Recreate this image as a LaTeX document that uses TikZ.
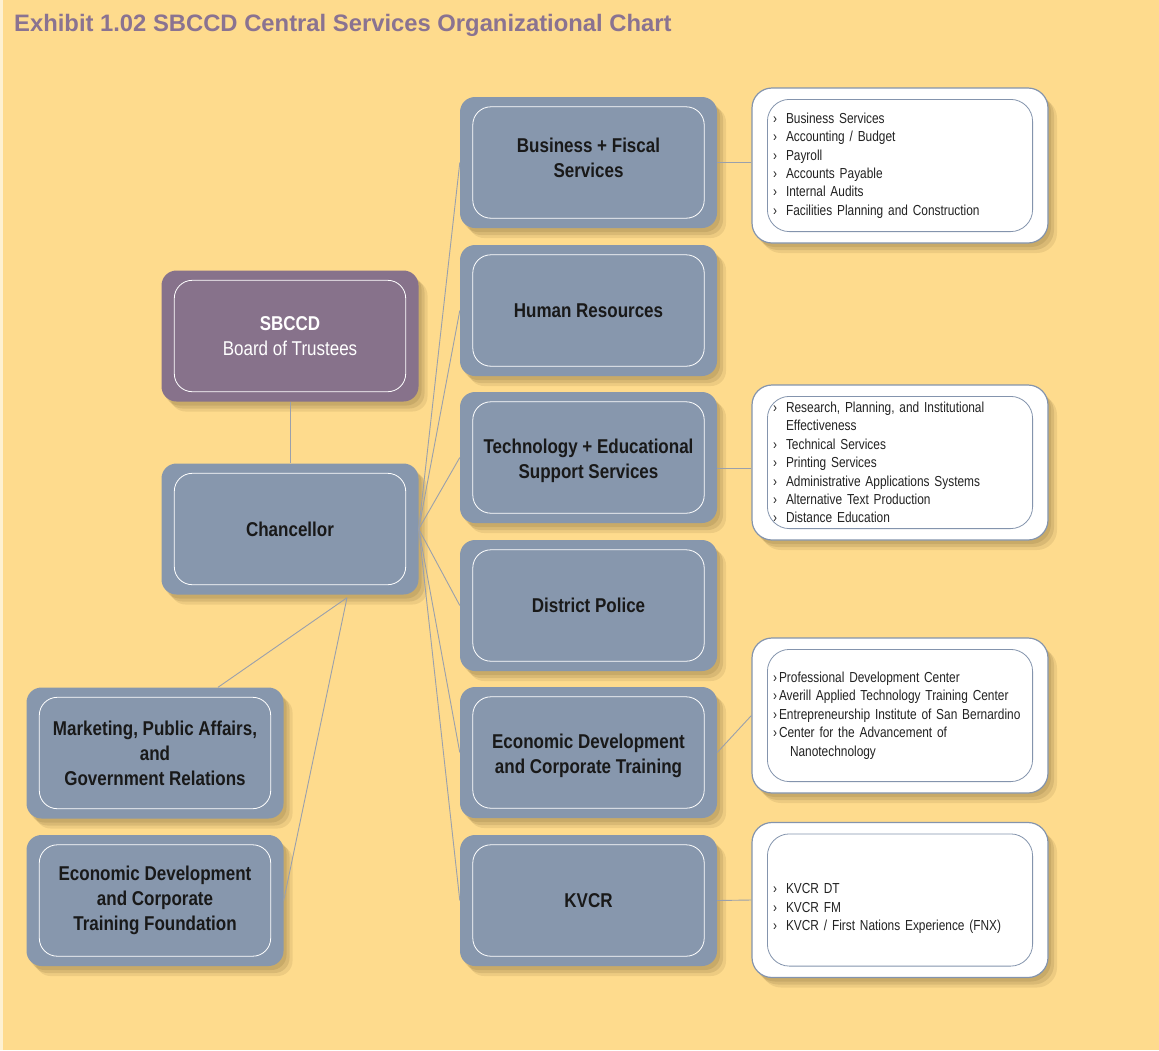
\documentclass[tikz,border=0pt]{standalone}
\usepackage{fontspec}
\setmainfont{Liberation Sans}
\newfontfamily\cond[FakeStretch=0.82]{Liberation Sans}
\newfontfamily\condb[FakeStretch=0.85]{Liberation Sans}
\usetikzlibrary{calc}

\definecolor{bgyellow}{HTML}{FEDB8D}
\definecolor{titlec}{HTML}{8A7391}
\definecolor{boardc}{HTML}{87728B}
\definecolor{bluebox}{HTML}{8797AD}
\definecolor{listborder}{HTML}{8494AD}
\definecolor{connc}{HTML}{9AA0AC}
\definecolor{shadowc}{HTML}{5A4620}
\definecolor{listtext}{HTML}{222222}

% bullet marks for the lists
\newcommand\itm{\makebox[13pt][l]{›}}
\newcommand\itmt{\makebox[6pt][l]{›}}

\begin{document}
\begin{tikzpicture}[x=1pt,y=-1pt,
    shadowed/.style={
        preaction={fill=shadowc,opacity=0.13,transform canvas={shift={(3pt,-4pt)}}},
        preaction={fill=shadowc,opacity=0.13,transform canvas={shift={(6pt,-7pt)}}},
        preaction={fill=shadowc,opacity=0.10,transform canvas={shift={(9pt,-10pt)}}}},
    box/.style={rectangle,rounded corners=15pt,minimum width=257pt,minimum height=131pt,
        fill=bluebox,align=center,text=black!90,
        font=\condb\bfseries\fontsize{20}{25}\selectfont,shadowed},
    listbox/.style={rectangle,rounded corners=20pt,minimum width=296pt,minimum height=155pt,
        fill=white,draw=listborder,line width=1.2pt,text width=254pt,align=left,text=listtext,
        font=\cond\fontsize{14.5}{18.4}\selectfont,shadowed},
    inner/.style={draw=white,line width=0.8pt,rounded corners=18pt},
    listinner/.style={draw=listborder,line width=0.8pt,rounded corners=22pt},
    conn/.style={draw=connc,line width=0.9pt}]

\fill[white!60!bgyellow] (0,0) rectangle (1159,1050);
\fill[bgyellow] (3,0) rectangle (1159,1050);
\useasboundingbox (0,0) rectangle (1159,1050);

\node[anchor=base west,inner sep=0pt,text=titlec,font=\bfseries\fontsize{23.8}{28}\selectfont] (title) at (14,31)
    {Exhibit 1.02 SBCCD Central Services Organizational Chart};

% left column
\node[box,fill=boardc,text=white] (board) at (290,336) {SBCCD\\\mdseries Board of Trustees};
\node[box] (chan) at (290,529) {Chancellor};
\node[box] (mkt) at (155,753) {Marketing, Public Affairs,\\and\\Government Relations};
\node[box] (fdn) at (155,900.5) {Economic Development\\and Corporate\\Training Foundation};

% right column
\node[box] (biz) at (588.5,162.5) {Business + Fiscal\\Services\rule[-10pt]{0pt}{1pt}};
\node[box] (hr) at (588.5,310.5) {Human Resources};
\node[box] (tech) at (588.5,457.5) {\rule{0pt}{21pt}Technology + Educational\\Support Services};
\node[box] (police) at (588.5,605.5) {District Police};
\node[box] (eco) at (588.5,752.5) {\rule{0pt}{21pt}Economic Development\\and Corporate Training};
\node[box] (kvcr) at (588.5,900.5) {KVCR};

\foreach \n in {board,chan,mkt,fdn,biz,hr,tech,police,eco,kvcr}
    \draw[inner] ($(\n.north west)+(13,10)$) rectangle ($(\n.south east)+(-13,-10)$);

% lists
\node[listbox] (bizlist) at (900,165.5) {\itm Business Services\\\itm Accounting / Budget\\\itm Payroll\\
    \itm Accounts Payable\\\itm Internal Audits\\\itm Facilities Planning and Construction};
\node[listbox] (techlist) at (900,462.5) {\itm Research, Planning, and Institutional\\\hspace*{13pt}Effectiveness\\
    \itm Technical Services\\\itm Printing Services\\\itm Administrative Applications Systems\\
    \itm Alternative Text Production\\\itm Distance Education};
\node[listbox] (ecolist) at (900,715.5) {\itmt Professional Development Center\\\itmt Averill Applied Technology Training Center\\
    \itmt Entrepreneurship Institute of San Bernardino\\\itmt Center for the Advancement of\\\hspace*{17pt}Nanotechnology};
\node[listbox] (kvcrlist) at (900,900) {\rule{0pt}{27pt}\itm KVCR DT\\\itm KVCR FM\\\itm KVCR / First Nations Experience (FNX)};

\foreach \n in {bizlist,techlist,ecolist,kvcrlist}
    \draw[listinner] ($(\n.north west)+(16,12)$) rectangle ($(\n.south east)+(-16,-12)$);

% connectors
\draw[conn] (board.south) -- (chan.north);
\foreach \n in {biz,hr,tech,police,eco,kvcr}
    \draw[conn] (chan.east) -- (\n.west);
\coordinate (lhub) at ($(chan.south)+(57,3)$);
\draw[conn] (lhub) -- ($(mkt.north)+(63,0)$);
\draw[conn] (lhub) -- (fdn.east);
\draw[conn] (biz.east) -- (biz.east -| bizlist.west);
\coordinate (techjoin) at ($(techlist.west)+(0,6)$);
\draw[conn] (techjoin -| tech.east) -- (techjoin);
\draw[conn] (eco.east) -- (ecolist.west);
\draw[conn] (kvcr.east) -- (kvcrlist.west);
\end{tikzpicture}
\end{document}
